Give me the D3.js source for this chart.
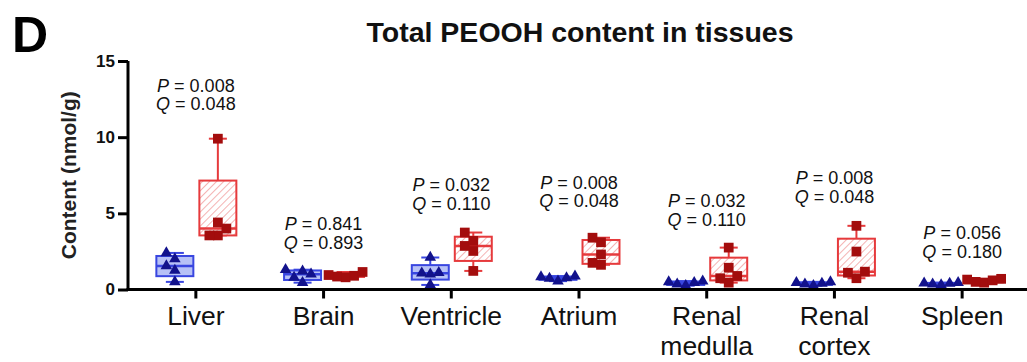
<!DOCTYPE html>
<html>
<head>
<meta charset="utf-8">
<script src="https://cdn.jsdelivr.net/npm/d3@7"></script>
<style>
  body { margin: 0; background: #fff; }
  svg { display: block; font-family: Arial, "Liberation Sans", sans-serif; }
</style>
</head>
<body>
<svg id="chart" width="1027" height="362"></svg>
<script>
// tissues on the x axis
const categories = ["Liver", "Brain", "Ventricle", "Atrium", "Renal medulla", "Renal cortex", "Spleen"];
const groups = ["control", "treated"];

// five animals per group, nmol/g
const controlValues = [
  [0.5, 1.25, 1.55, 2.0, 2.4],
  [0.45, 0.8, 1.0, 1.2, 1.3],
  [0.3, 1.0, 1.07, 1.1, 2.1],
  [0.55, 0.72, 0.76, 0.82, 0.88],
  [0.25, 0.35, 0.45, 0.5, 0.55],
  [0.25, 0.35, 0.4, 0.45, 0.5],
  [0.3, 0.35, 0.4, 0.42, 0.45]
];
const treatedValues = [
  [3.55, 3.55, 4.0, 4.4, 9.9],
  [0.8, 0.85, 0.9, 0.95, 1.15],
  [1.22, 2.53, 2.86, 3.19, 3.74],
  [1.62, 1.75, 2.3, 3.1, 3.4],
  [0.45, 0.74, 0.89, 1.43, 2.75],
  [0.74, 1.1, 1.17, 2.49, 4.18],
  [0.45, 0.5, 0.6, 0.65, 0.7]
];

const pValues = ["0.008", "0.841", "0.032", "0.008", "0.032", "0.008", "0.056"];
const qValues = ["0.048", "0.893", "0.110", "0.048", "0.110", "0.048", "0.180"];
// height (nmol/g) where each P/Q annotation sits
const labelLevels = [13.26, 4.18, 6.74, 6.88, 5.69, 7.2, 3.59];
const yTicks = [0, 5, 10, 15];

const colors = {
  control: { point: "#12128c", stroke: "#3946e0", fill: "#b7c1f6" },
  treated: { point: "#a30d0d", stroke: "#e63a3c", fill: "url(#hatch)" }
};

const svg = d3.select("#chart");

const defs = svg.append("defs");
const pat = defs.append("pattern")
  .attr("id", "hatch")
  .attr("width", 5).attr("height", 5)
  .attr("patternUnits", "userSpaceOnUse")
  .attr("patternTransform", "rotate(45)");
pat.append("rect").attr("width", 5).attr("height", 5).attr("fill", "#fff");
pat.append("line").attr("x1", 0).attr("y1", 0).attr("x2", 0).attr("y2", 5)
  .attr("stroke", "#f2a0a0").attr("stroke-width", 1.6);

const x = d3.scaleBand().domain(categories).range([132, 1026]);
const xSub = d3.scaleBand().domain(groups).range([-39.5, 40.5]).paddingInner(0.14);
const y = d3.scaleLinear().domain([0, 15]).range([289.5, 61]);

// GraphPad style quartiles: position p*(n+1)
function quart(sorted, p) {
  let h = p * (sorted.length + 1) - 1;
  h = Math.max(0, Math.min(sorted.length - 1, h));
  const lo = Math.floor(h), hi = Math.ceil(h);
  return sorted[lo] + (h - lo) * (sorted[hi] - sorted[lo]);
}

// spread overlapping points sideways
function scatter(vals, size) {
  const placed = [];
  const order = vals.map((v, i) => i).sort((a, b) => vals[a] - vals[b]);
  const offs = [0, -size, size, -2 * size, 2 * size, -3 * size, 3 * size];
  order.forEach((i) => {
    const py = y(vals[i]);
    const dx = offs.find((o) => !placed.some((p) => Math.abs(p.py - py) < size && Math.abs(p.dx - o) < size));
    placed.push({ v: vals[i], py: py, dx: dx });
  });
  return placed;
}

const data = [];
categories.forEach((c, i) => {
  [controlValues[i], treatedValues[i]].forEach((vals, gi) => {
    const s = vals.slice().sort((a, b) => a - b);
    data.push({
      cat: c,
      group: groups[gi],
      values: vals,
      min: s[0],
      q1: quart(s, 0.25),
      med: quart(s, 0.5),
      q3: quart(s, 0.75),
      max: s[s.length - 1]
    });
  });
});

const bw = xSub.bandwidth();
const capW = 18;

const box = svg.append("g")
  .selectAll("g")
  .data(data)
  .join("g")
  .attr("transform", (d) => `translate(${x(d.cat) + x.bandwidth() / 2 + xSub(d.group)},0)`);

box.append("line")
  .attr("x1", bw / 2).attr("x2", bw / 2)
  .attr("y1", (d) => y(d.max)).attr("y2", (d) => y(d.min))
  .attr("stroke", (d) => colors[d.group].stroke).attr("stroke-width", 2);

box.append("line")
  .attr("x1", bw / 2 - capW / 2).attr("x2", bw / 2 + capW / 2)
  .attr("y1", (d) => y(d.max)).attr("y2", (d) => y(d.max))
  .attr("stroke", (d) => colors[d.group].stroke).attr("stroke-width", 2);

box.append("line")
  .attr("x1", bw / 2 - capW / 2).attr("x2", bw / 2 + capW / 2)
  .attr("y1", (d) => y(d.min)).attr("y2", (d) => y(d.min))
  .attr("stroke", (d) => colors[d.group].stroke).attr("stroke-width", 2);

box.append("rect")
  .attr("x", 0).attr("width", bw)
  .attr("y", (d) => y(d.q3))
  .attr("height", (d) => Math.max(1, y(d.q1) - y(d.q3)))
  .attr("fill", (d) => colors[d.group].fill)
  .attr("stroke", (d) => colors[d.group].stroke).attr("stroke-width", 2);

box.append("line")
  .attr("x1", 0).attr("x2", bw)
  .attr("y1", (d) => y(d.med)).attr("y2", (d) => y(d.med))
  .attr("stroke", (d) => colors[d.group].stroke).attr("stroke-width", 2.5);

const triangle = d3.symbol().type(d3.symbolTriangle).size(58);
const square = d3.symbol().type(d3.symbolSquare).size(95);

box.selectAll("path.pt")
  .data((d) => scatter(d.values, 8.5).map((p) => ({ ...p, group: d.group })))
  .join("path")
  .attr("class", "pt")
  .attr("transform", (p) => `translate(${bw / 2 + p.dx},${p.py})`)
  .attr("d", (p) => (p.group === "control" ? triangle() : square()))
  .attr("fill", (p) => colors[p.group].point);

// axes
const yAxis = svg.append("g")
  .attr("transform", "translate(128,0)")
  .call(d3.axisLeft(y).tickValues(yTicks).tickSize(10).tickSizeOuter(0).tickPadding(3));
yAxis.select(".domain").attr("stroke-width", 3).attr("d", `M0,${y(15)}V${y(0) + 1.5}`);
yAxis.selectAll(".tick line").attr("stroke-width", 3);
yAxis.selectAll(".tick text")
  .attr("font-size", 17).attr("font-weight", "bold")
  .attr("font-family", "Arial, 'Liberation Sans', sans-serif").attr("fill", "#111");

const xAxis = svg.append("g")
  .attr("transform", `translate(0,${y(0)})`)
  .call(d3.axisBottom(x).tickSize(9).tickSizeOuter(0).tickPadding(8));
xAxis.select(".domain").attr("stroke-width", 3).attr("d", "M126.5,0H1027");
xAxis.selectAll(".tick line").attr("stroke-width", 3);
xAxis.selectAll(".tick text")
  .attr("font-size", 26.5)
  .attr("font-family", "Arial, 'Liberation Sans', sans-serif")
  .attr("fill", "#111")
  .each(function (d) {
    const words = d.split(" ");
    if (words.length < 2) return;
    const t = d3.select(this).text(null);
    words.forEach((w, i) => {
      t.append("tspan").attr("x", 0).attr("dy", i === 0 ? "0.71em" : "1.13em").text(w);
    });
  });

// P / Q annotations, one text per line
const ann = svg.append("g")
  .selectAll("g")
  .data(categories)
  .join("g")
  .attr("transform", (c, i) => `translate(${x(c) + x.bandwidth() / 2},${y(labelLevels[i])})`);

ann.append("text")
  .attr("text-anchor", "middle").attr("font-size", 18).attr("fill", "#111")
  .attr("y", -2).attr("dy", "0.35em")
  .call((t) => t.append("tspan").attr("font-style", "italic").text("P"))
  .call((t) => t.append("tspan").text((c, i) => " = " + pValues[i]));

ann.append("text")
  .attr("text-anchor", "middle").attr("font-size", 18).attr("fill", "#111")
  .attr("y", 16.5).attr("dy", "0.35em")
  .call((t) => t.append("tspan").attr("font-style", "italic").text("Q"))
  .call((t) => t.append("tspan").text((c, i) => " = " + qValues[i]));

// titles
svg.append("text")
  .attr("x", 580).attr("y", 42)
  .attr("text-anchor", "middle")
  .attr("font-size", 28.5).attr("font-weight", "bold").attr("fill", "#111")
  .text("Total PEOOH content in tissues");

svg.append("text")
  .attr("transform", `translate(76,${(y(0) + y(15)) / 2}) rotate(-90)`)
  .attr("text-anchor", "middle")
  .attr("font-size", 21).attr("font-weight", "bold").attr("fill", "#222")
  .text("Content (nmol/g)");

svg.append("text")
  .attr("x", 12).attr("y", 52)
  .attr("font-size", 50).attr("font-weight", "bold").attr("fill", "#000")
  .text("D");
</script>
</body>
</html>
